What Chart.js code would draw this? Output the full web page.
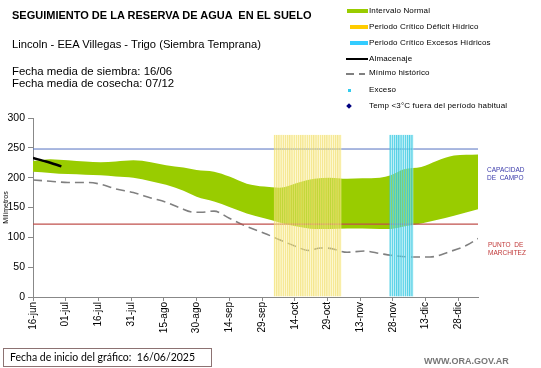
<!DOCTYPE html>
<html>
<head>
<meta charset="utf-8">
<script src="https://cdn.jsdelivr.net/npm/chart.js@4.4.1/dist/chart.umd.min.js"></script>
<style>
  body { margin: 0; background: #fff; font-family: "Liberation Sans", Arial, sans-serif; }
  #wrap { position: relative; width: 541px; height: 368px; overflow: hidden; }
  #myChart { position: absolute; left: 0; top: 0; }
  .t { position: absolute; white-space: pre; color: #000; }
  .leg { font-size: 8px; line-height: 10px; left: 369px; letter-spacing: 0.15px; }
  .sw { position: absolute; }
</style>
</head>
<body>
<div id="wrap">
  <canvas id="myChart" width="541" height="368"></canvas>

  <div class="t" style="left:12px;top:9px;font-size:11px;line-height:13px;font-weight:bold;">SEGUIMIENTO DE LA RESERVA DE AGUA  EN EL SUELO</div>
  <div class="t" style="left:12px;top:37px;font-size:11.2px;line-height:14px;">Lincoln - EEA Villegas - Trigo (Siembra Temprana)</div>
  <div class="t" style="left:12px;top:64px;font-size:11.4px;line-height:14px;">Fecha media de siembra: 16/06</div>
  <div class="t" style="left:12px;top:76px;font-size:11.4px;line-height:14px;">Fecha media de cosecha: 07/12</div>

  <!-- leyenda -->
  <div class="sw" style="left:347px;top:9px;width:21px;height:4px;background:#99cc00;"></div>
  <div class="t leg" style="top:6px;">Intervalo Normal</div>
  <div class="sw" style="left:350px;top:25px;width:18px;height:4px;background:#ffcc00;"></div>
  <div class="t leg" style="top:22px;">Periodo Crítico Déficit Hídrico</div>
  <div class="sw" style="left:350px;top:41px;width:18px;height:4px;background:#33ccff;"></div>
  <div class="t leg" style="top:38px;">Periodo Crítico Excesos Hídricos</div>
  <div class="sw" style="left:346px;top:58px;width:22px;height:2px;background:#000;"></div>
  <div class="t leg" style="top:54px;">Almacenaje</div>
  <div class="sw" style="left:346px;top:73px;width:8px;height:2px;background:#808080;"></div>
  <div class="sw" style="left:359px;top:73px;width:6px;height:2px;background:#808080;"></div>
  <div class="t leg" style="top:68px;">Mínimo histórico</div>
  <div class="sw" style="left:348px;top:89px;width:3px;height:3px;background:#33ccee;"></div>
  <div class="t leg" style="top:85px;">Exceso</div>
  <div class="sw" style="left:347px;top:104px;width:4px;height:4px;background:#000080;transform:rotate(45deg);"></div>
  <div class="t leg" style="top:101px;">Temp &lt;3°C fuera del período habitual</div>

  <div class="t" style="left:487px;top:166px;font-size:6.5px;line-height:8px;color:#3a3aaa;">CAPACIDAD
DE  CAMPO</div>
  <div class="t" style="left:488px;top:241px;font-size:6.5px;line-height:8px;color:#c03838;">PUNTO  DE
MARCHITEZ</div>

  <div class="t" style="left:3px;top:348px;width:207px;height:17px;border:1px solid #8c7272;"></div>
  <div class="t" style="left:10px;top:350px;font-size:10.5px;line-height:14px;font-family:Lato,'Liberation Sans',sans-serif;">Fecha de inicio del gráfico:  16/06/2025</div>
  <div class="t" style="left:424px;top:356px;font-size:9px;line-height:10px;font-weight:bold;color:#777;">WWW.ORA.GOV.AR</div>
</div>

<script>
// dias contados desde el 16/06
var tickDias = [0, 15, 30, 45, 60, 75, 90, 105, 120, 135, 150, 165, 180, 195];
var etiquetasX = ["16-jun", "01-jul", "16-jul", "31-jul", "15-ago", "30-ago", "14-sep",
                  "29-sep", "14-oct", "29-oct", "13-nov", "28-nov", "13-dic", "28-dic"];
var ticksY = [0, 50, 100, 150, 200, 250, 300];
var finDias = 204;

// intervalo normal (mm)
var diasBanda = [0, 8, 16, 24, 31, 38, 46, 54, 61, 69, 75, 83, 90, 98, 106, 113, 121, 129, 136, 144, 151, 159, 164, 170, 178, 185, 193, 204];
var bandaMax  = [228, 231, 229, 227, 226, 227, 229, 226, 221, 217, 213, 210, 202, 190, 185, 183, 191, 198, 200, 198, 199, 200, 204, 214, 218, 228, 237, 239];
var bandaMin  = [210, 208, 206, 205, 204, 202, 200, 194, 188, 178, 168, 160, 151, 140, 132, 125, 118, 114, 114, 115, 115, 114, 114, 118, 123, 129, 136, 147];

// minimo historico (mm)
var diasMinHist  = [0, 8, 16, 25, 31, 38, 46, 54, 61, 67, 74, 77, 83, 90, 98, 106, 113, 121, 126, 132, 135, 144, 152, 159, 164, 175, 182, 191, 199, 204];
var minHistorico = [196, 194, 192, 192, 189, 181, 175, 166, 159, 150, 142, 142, 144, 132, 118, 107, 96, 84, 78, 82, 82, 75, 77, 73, 70, 67, 67, 76, 87, 98];

// almacenaje (mm)
var diasAlmacenaje = [0, 6, 13];
var almacenaje = [233, 227, 219];

// periodos criticos
var diasDeficit = [111, 112, 113, 114, 115, 116, 117, 118, 119, 120, 121, 122, 123, 124, 125, 126,
                   127, 128, 129, 130, 131, 132, 133, 134, 135, 136, 137, 138, 139, 140, 141];
var diasExceso = [164, 165, 166, 167, 168, 169, 170, 171, 172, 173, 174];
var altoFranja = 272;

var capacidadCampo = 248;
var puntoMarchitez = 122;

function pares(xs, ys) {
	return xs.map(function (x, i) { return {x: x, y: ys[i]}; });
}
function franja(xs) {
	return xs.map(function (x) { return {x: x, y: altoFranja}; });
}

function generateChart() {
	var chartId = document.getElementById("myChart");
	Chart.defaults.font.family = "'Liberation Sans', Arial, sans-serif";
	Chart.defaults.color = "#000";

	var datasets = [
		{ // 0
			type: 'line', label: 'Almacenaje', data: pares(diasAlmacenaje, almacenaje),
			borderColor: '#000', borderWidth: 2.5, pointRadius: 0, tension: 0.3, order: 0
		},
		{ // 1
			type: 'bar', label: 'Excesos', data: franja(diasExceso), grouped: false,
			backgroundColor: 'rgba(180,238,248,0.4)', borderColor: 'rgba(50,200,225,0.85)',
			borderWidth: {left: 1, right: 0, top: 0, bottom: 0}, borderSkipped: false,
			barPercentage: 1, categoryPercentage: 1, order: 1
		},
		{ // 2
			type: 'bar', label: 'Deficit', data: franja(diasDeficit), grouped: false,
			backgroundColor: 'rgba(255,245,175,0.35)', borderColor: 'rgba(240,220,100,0.7)',
			borderWidth: {left: 1, right: 0, top: 0, bottom: 0}, borderSkipped: false,
			barPercentage: 1, categoryPercentage: 1, order: 1
		},
		{ // 3
			type: 'line', label: 'Capacidad', data: pares([0, finDias], [capacidadCampo, capacidadCampo]),
			borderColor: '#5470c0', borderWidth: 1, pointRadius: 0, order: 3
		},
		{ // 4
			type: 'line', label: 'Marchitez', data: pares([0, finDias], [puntoMarchitez, puntoMarchitez]),
			borderColor: '#c0504d', borderWidth: 1.2, pointRadius: 0, order: 3
		},
		{ // 5
			type: 'line', label: 'Minimo', data: pares(diasMinHist, minHistorico),
			borderColor: '#808080', borderWidth: 1.6, borderDash: [9, 5], pointRadius: 0,
			tension: 0.4, cubicInterpolationMode: 'monotone', order: 4
		},
		{ // 6
			type: 'line', label: 'BandaMin', data: pares(diasBanda, bandaMin),
			borderWidth: 0, borderColor: 'rgba(0,0,0,0)', pointRadius: 0,
			cubicInterpolationMode: 'monotone', order: 5
		},
		{ // 7
			type: 'line', label: 'BandaMax', data: pares(diasBanda, bandaMax),
			borderWidth: 0, borderColor: 'rgba(0,0,0,0)', pointRadius: 0,
			cubicInterpolationMode: 'monotone', fill: '-1', backgroundColor: '#99cc00', order: 5
		}
	];

	var chart = new Chart(chartId, {
		type: 'line',
		data: { datasets: datasets },
		options: {
			responsive: false,
			animation: false,
			layout: { padding: { left: 0, top: 118, right: 63, bottom: 0 } },
			plugins: { legend: { display: false }, tooltip: { enabled: false } },
			scales: {
				x: {
					type: 'linear', min: 0, max: finDias, offset: false,
					grid: { drawOnChartArea: false, drawTicks: true, tickLength: 4, color: '#888', offset: false },
					border: { color: '#888' },
					afterBuildTicks: function (scale) {
						scale.ticks = tickDias.map(function (v) { return {value: v}; });
					},
					afterFit: function (scale) { scale.height = 71; },
					ticks: {
						autoSkip: false, minRotation: 90, maxRotation: 90, padding: 1,
						font: { size: 10 }, color: '#000',
						callback: function (v, i) { return etiquetasX[i]; }
					}
				},
				y: {
					min: 0, max: 300,
					grid: { drawOnChartArea: false, drawTicks: true, tickLength: 5, color: '#888' },
					border: { color: '#888' },
					afterBuildTicks: function (scale) {
						scale.ticks = ticksY.map(function (v) { return {value: v}; });
					},
					afterFit: function (scale) { scale.width = 33; },
					ticks: { padding: 3, font: { size: 10.5 }, color: '#000' },
					title: { display: true, text: 'Milímetros', font: { size: 7 }, padding: { top: 2, bottom: 0 }, color: '#000' }
				}
			}
		}
	});
}

generateChart();
</script>
</body>
</html>
